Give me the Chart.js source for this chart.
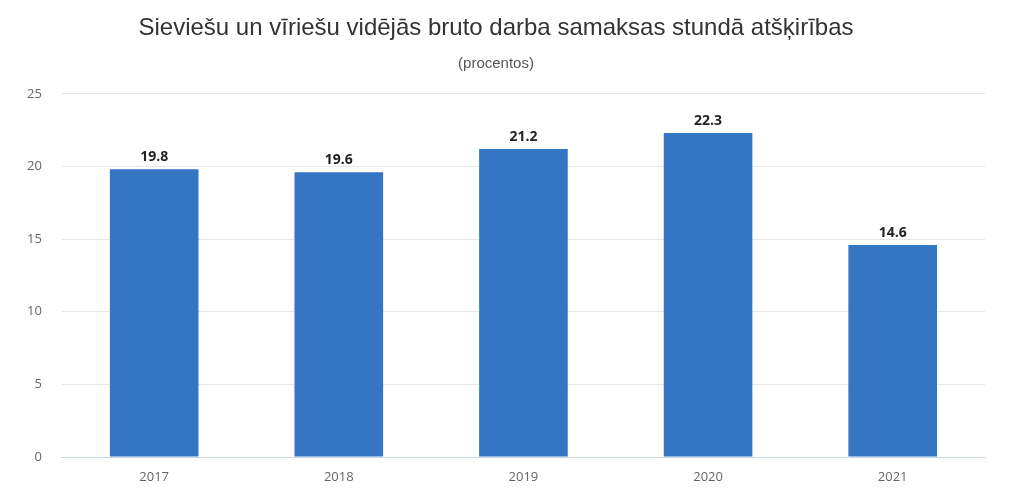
<!DOCTYPE html>
<html><head><meta charset="utf-8">
<script src="https://cdn.jsdelivr.net/npm/chart.js@4/dist/chart.umd.min.js"></script>
<style>html,body{margin:0;padding:0;background:#fff;overflow:hidden}</style>
</head><body>
<canvas id="c" width="1024" height="491"></canvas>
<script>
const categories = ['2017', '2018', '2019', '2020', '2021'];
const values = [19.8, 19.6, 21.2, 22.3, 14.6];
const yTicks = [0, 5, 10, 15, 20, 25];
const titleText = 'Sieviešu un vīriešu vidējās bruto darba samaksas stundā atšķirības';
const subtitleText = '(procentos)';

const valueLabels = {
  id: 'valueLabels',
  afterDatasetsDraw(chart) {
    const ctx = chart.ctx;
    const meta = chart.getDatasetMeta(0);
    ctx.save();
    ctx.font = 'bold 14px "Open Sans", sans-serif';
    ctx.fillStyle = '#222';
    ctx.textAlign = 'center';
    ctx.textBaseline = 'bottom';
    meta.data.forEach((bar, i) => {
      ctx.fillText(values[i].toFixed(1), bar.x, bar.y - 5);
    });
    ctx.restore();
  }
};

new Chart(document.getElementById('c'), {
  type: 'bar',
  data: {
    labels: categories,
    datasets: [{
      data: values,
      backgroundColor: '#3476c4',
      borderWidth: 0,
      barPercentage: 0.48,
      categoryPercentage: 1
    }]
  },
  options: {
    responsive: false,
    devicePixelRatio: 1,
    animation: false,
    layout: { padding: { left: 7, right: 39, top: 0, bottom: 0 } },
    plugins: {
      legend: { display: false },
      tooltip: { enabled: false },
      title: {
        display: true,
        text: titleText,
        color: '#333',
        font: { family: '"Liberation Sans", sans-serif', size: 24, weight: 'normal' },
        padding: { top: 14, bottom: 12 }
      },
      subtitle: {
        display: true,
        text: subtitleText,
        color: '#555',
        font: { family: '"Liberation Sans", sans-serif', size: 15 },
        padding: { top: 0, bottom: 21 }
      }
    },
    scales: {
      x: {
        grid: { display: false, drawTicks: false },
        border: { display: true, color: '#ccd6eb', width: 1 },
        ticks: { color: '#666', font: { family: '"Open Sans", sans-serif', size: 13 }, padding: 12 },
        afterFit(scale) { scale.height = 34; }
      },
      y: {
        min: 0, max: 25,
        afterBuildTicks(scale) { scale.ticks = yTicks.map(v => ({ value: v })); },
        grid: { color: '#e6e6e6', drawTicks: false },
        border: { display: false },
        ticks: { color: '#666', font: { family: '"Open Sans", sans-serif', size: 13 }, padding: 20 }
      }
    }
  },
  plugins: [valueLabels]
});
</script>
</body></html>
